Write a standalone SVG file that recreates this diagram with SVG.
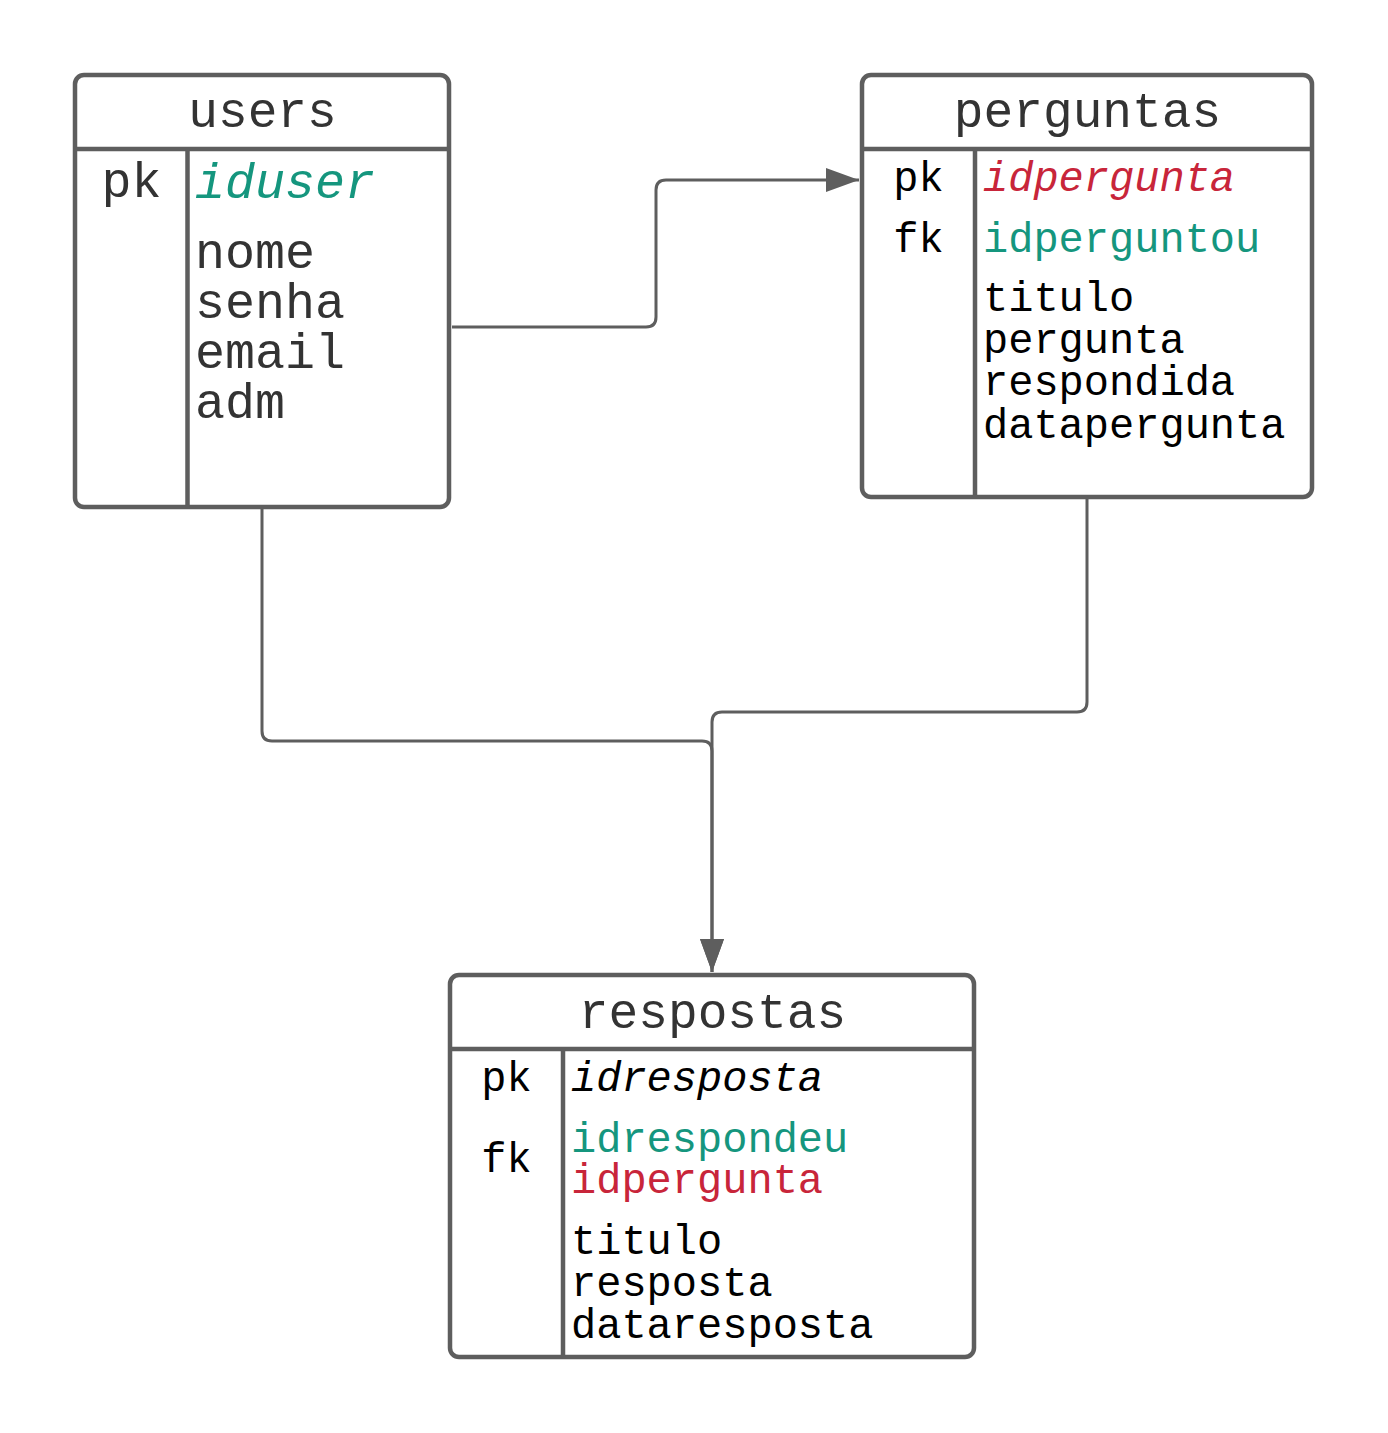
<svg xmlns="http://www.w3.org/2000/svg" width="1388" height="1433" viewBox="0 0 1388 1433">
<style>
.box{fill:#fff;stroke:#5e5e5e;stroke-width:4.5}
.ln{stroke:#5e5e5e;stroke-width:4.5}
.con{fill:none;stroke:#5e5e5e;stroke-width:3}
text{font-family:"Liberation Mono","DejaVu Sans Mono",monospace}
.title{font-size:49.5px;fill:#333;text-anchor:middle}
.u{font-size:50px;fill:#333}
.b{font-size:42px;fill:#000}
.k{text-anchor:middle}
.it{font-style:italic}
.teal{fill:#15967e}
.red{fill:#c8253a}
</style>
<defs>
<marker id="arr" markerWidth="34" markerHeight="24" refX="33" refY="12" orient="auto" markerUnits="userSpaceOnUse">
<path d="M0,0 L33,12 L0,24 Z" fill="#5e5e5e"/>
</marker>
</defs>
<g id="connectors">
<path class="con" d="M452,327 H646 Q656,327 656,317 V190 Q656,180 666,180 H859" marker-end="url(#arr)"/>
<path class="con" d="M262,509 V731 Q262,741 272,741 H702 Q712,741 712,751 V972" marker-end="url(#arr)"/>
<path class="con" d="M1087,499 V702 Q1087,712 1077,712 H722 Q712,712 712,722 V972" marker-end="url(#arr)"/>
</g>
<g id="users">
<rect class="box" x="75" y="75" width="374" height="432" rx="9"/>
<line class="ln" x1="75" y1="149" x2="449" y2="149"/>
<line class="ln" x1="187.5" y1="149" x2="187.5" y2="507"/>
<text class="title" x="262.5" y="127">users</text>
<text class="u k" x="131.5" y="197">pk</text>
<text class="u it teal" x="195" y="198">iduser</text>
<text class="u" x="195" y="268">nome</text>
<text class="u" x="195" y="318">senha</text>
<text class="u" x="195" y="368">email</text>
<text class="u" x="195" y="418">adm</text>
</g>
<g id="perguntas">
<rect class="box" x="862" y="75" width="450" height="422" rx="9"/>
<line class="ln" x1="862" y1="149" x2="1312" y2="149"/>
<line class="ln" x1="975" y1="149" x2="975" y2="497"/>
<text class="title" x="1087.5" y="127">perguntas</text>
<text class="b k" x="918.5" y="191">pk</text>
<text class="b k" x="918.5" y="252">fk</text>
<text class="b it red" x="983" y="191">idpergunta</text>
<text class="b teal" x="983" y="252">idperguntou</text>
<text class="b" x="983" y="311">titulo</text>
<text class="b" x="983" y="353">pergunta</text>
<text class="b" x="983" y="395">respondida</text>
<text class="b" x="983" y="438">datapergunta</text>
</g>
<g id="respostas">
<rect class="box" x="450" y="975" width="524" height="382" rx="9"/>
<line class="ln" x1="450" y1="1049" x2="974" y2="1049"/>
<line class="ln" x1="563" y1="1049" x2="563" y2="1357"/>
<text class="title" x="712.5" y="1028">respostas</text>
<text class="b k" x="506.5" y="1091">pk</text>
<text class="b k" x="506.5" y="1172">fk</text>
<text class="b it" x="571" y="1091">idresposta</text>
<text class="b teal" x="571" y="1152">idrespondeu</text>
<text class="b red" x="571" y="1193">idpergunta</text>
<text class="b" x="571" y="1254">titulo</text>
<text class="b" x="571" y="1296">resposta</text>
<text class="b" x="571" y="1338">dataresposta</text>
</g>
</svg>
